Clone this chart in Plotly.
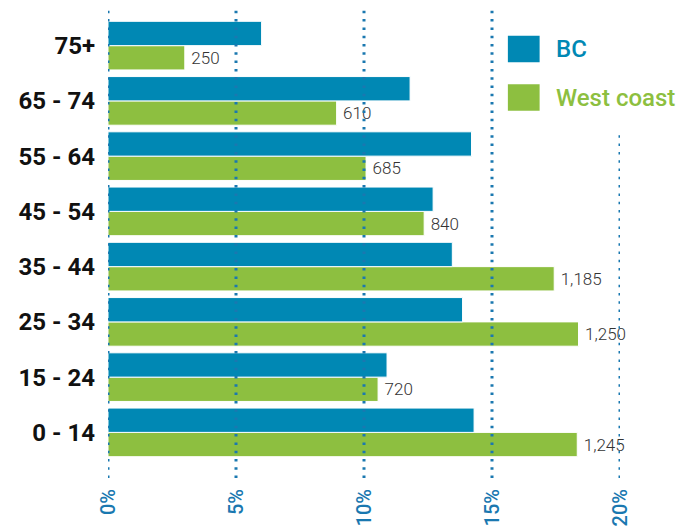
import plotly.graph_objects as go

# Data (bottom to top)
categories = ["0 - 14", "15 - 24", "25 - 34", "35 - 44", "45 - 54", "55 - 64", "65 - 74", "75+"]
bc_pct = [14.3, 10.9, 13.85, 13.45, 12.7, 14.2, 11.8, 6.0]
wc_pct = [18.33, 10.55, 18.38, 17.43, 12.35, 10.08, 8.93, 3.0]
wc_counts = ["1,245", "720", "1,250", "1,185", "840", "685", "610", "250"]
tick_vals = [0, 5, 10, 15, 20]
tick_text = ["0%", "5%", "10%", "15%", "20%"]
series_names = ["BC", "West coast"]

BLUE = "#0088b4"
GREEN = "#8dbf40"
AXBLUE = "#1a78b0"

fig = go.Figure()
fig.add_trace(go.Bar(
    y=categories, x=wc_pct, orientation="h", name=series_names[1],
    marker=dict(color=GREEN, line=dict(color="white", width=1)),
    text=wc_counts, texttemplate="\u2009%{text}", textposition="outside", cliponaxis=False,
    textfont=dict(family="Roboto", size=17, color="#333333", weight=300),
    showlegend=False, hoverinfo="skip",
))
fig.add_trace(go.Bar(
    y=categories, x=bc_pct, orientation="h", name=series_names[0],
    marker=dict(color=BLUE, line=dict(color="white", width=1)),
    showlegend=False, hoverinfo="skip",
))

# dotted gridlines drawn above bars
for t in tick_vals:
    top = 0.74 if t == tick_vals[-1] else 1.023
    fig.add_shape(type="line", xref="x", yref="paper", x0=t, x1=t, y0=-0.041, y1=top,
                  line=dict(color=AXBLUE, width=3, dash="2.5px,5.8px"), layer="above")

# manual legend
legend_items = [(series_names[0], BLUE, 0.93), (series_names[1], GREEN, 0.82)]
for name, col, yc in legend_items:
    fig.add_shape(type="rect", xref="paper", yref="paper",
                  x0=0.781, x1=0.843, y0=yc - 0.03, y1=yc + 0.03,
                  fillcolor=col, line=dict(width=0), layer="above")
    fig.add_annotation(xref="paper", yref="paper", x=0.872, y=yc, text=name,
                       showarrow=False, xanchor="left", yanchor="middle",
                       font=dict(family="Roboto", size=24, color=col, weight=500))

fig.update_layout(
    width=683, height=530,
    margin=dict(l=108, r=63, t=18, b=70),
    paper_bgcolor="white", plot_bgcolor="white",
    barmode="group", bargap=0.12, bargroupgap=0,
    xaxis=dict(range=[0, 20], tickvals=tick_vals, ticktext=tick_text, tickangle=-90,
               showgrid=False, zeroline=False, showline=False, ticks="",
               ticklabelstandoff=24, automargin=False,
               tickfont=dict(family="Roboto", size=20, color=AXBLUE, weight=500)),
    yaxis=dict(categoryorder="array", categoryarray=categories, showgrid=False,
               zeroline=False, showline=False, ticks="", ticklabelstandoff=12,
               automargin=False,
               tickfont=dict(family="Roboto", size=24, color="#111111", weight=700)),
)

fig.write_html("out.html", config={"displayModeBar": False},
               post_script="document.body.style.margin='0';document.body.style.overflow='hidden';")
